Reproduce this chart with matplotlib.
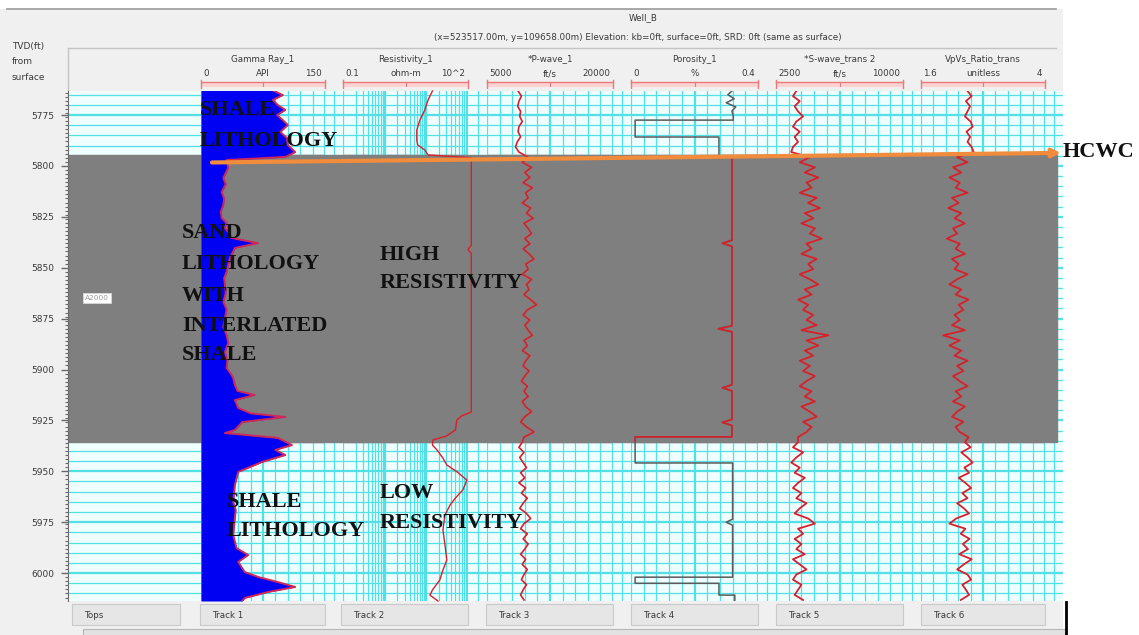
import numpy as np
import matplotlib
matplotlib.use("Agg")
import matplotlib.pyplot as plt
from matplotlib.patches import Rectangle

# ------------------------------------------------------------------ data
well_name = "Well_B"
well_info = "(x=523517.00m, y=109658.00m) Elevation: kb=0ft, surface=0ft, SRD: 0ft (same as surface)"
depth_ticks = [5775, 5800, 5825, 5850, 5875, 5900, 5925, 5950, 5975, 6000]
depth_range = (5763.2, 6013.7)
zone_top, zone_base = 5794.6, 5935.5          # A2000 sand interval (grey)
hcwc_depth = [5798.3, 5793.6]                 # contact arrow, left / right end
top_name, top_depth = "A2000", 5865.0

track_names = ["Gamma Ray_1", "Resistivity_1", "*P-wave_1", "Porosity_1",
               "*S-wave_trans 2", "VpVs_Ratio_trans"]
track_units = ["API", "ohm-m", "ft/s", "%", "ft/s", "unitless"]
track_min_lbl = ["0", "0.1", "5000", "0", "2500", "1.6"]
track_max_lbl = ["150", "10^2", "20000", "0.4", "10000", "4"]
track_limits = [(0, 150), (0.1, 100), (5000, 20000), (0, 0.4), (2500, 10000), (1.6, 4)]
button_labels = ["Tops", "Track 1", "Track 2", "Track 3", "Track 4", "Track 5", "Track 6"]

gr_log = [(5762.7, 86), (5765.2, 99), (5767.6, 87), (5770.1, 93), (5772.5, 102), (5775.0, 92),
          (5777.5, 99), (5779.9, 105), (5783.3, 96), (5786.3, 104), (5789.7, 105), (5793.2, 114),
          (5795.6, 102), (5797.1, 31), (5801.0, 33), (5805.9, 27), (5809.0, 30), (5812.8, 25),
          (5816.0, 28), (5819.2, 27), (5822.5, 24), (5825.6, 25), (5828.0, 31), (5830.5, 29),
          (5833.0, 34), (5835.4, 37), (5837.9, 69), (5840.3, 41), (5842.8, 38), (5845.2, 35),
          (5848.5, 33), (5852.1, 31), (5855.0, 28), (5858.5, 29), (5862.5, 30), (5866.8, 27),
          (5870.5, 31), (5874.7, 29), (5879.0, 27), (5883.1, 31), (5887.0, 33), (5891.4, 29),
          (5895.5, 32), (5899.3, 31), (5902.0, 36), (5904.2, 39), (5907.6, 41), (5910.5, 44),
          (5912.5, 65), (5915.0, 41), (5918.9, 45), (5921.5, 60), (5923.3, 102), (5925.8, 50),
          (5929.7, 41), (5931.2, 29), (5933.6, 93), (5937.1, 110), (5939.5, 90), (5942.0, 102),
          (5945.4, 74), (5950.3, 45), (5956.7, 41), (5961.0, 40), (5965.1, 39), (5969.0, 42),
          (5972.9, 41), (5977.0, 40), (5981.3, 39), (5984.5, 41), (5987.7, 43), (5991.1, 57),
          (5994.5, 45), (5999.5, 53), (6002.0, 70), (6004.4, 93), (6006.8, 114), (6009.3, 81),
          (6012.2, 53), (6013.7, 50)]

res_log = [(5763.2, 14), (5767.6, 11), (5772.5, 9.2), (5777.5, 7.0), (5782.4, 5.9), (5787.3, 5.9),
           (5789.7, 6.2), (5792.2, 9.2), (5794.6, 11), (5796.0, 120), (5839.0, 120), (5841.0, 100),
           (5843.0, 120), (5920.9, 120), (5922.8, 70), (5924.8, 54), (5929.7, 50), (5932.7, 30),
           (5934.6, 14.4), (5937.1, 14), (5939.5, 18), (5943.5, 25), (5946.9, 31), (5950.3, 55),
           (5954.3, 94), (5959.2, 75), (5963.1, 50), (5966.6, 37), (5971.5, 28), (5978.8, 25),
           (5986.2, 28), (5993.6, 31), (5998.5, 25), (6003.4, 21), (6008.3, 14), (6010.8, 12.2),
           (6013.7, 19)]

por_log = [(5763.2, 0.318), (5765.0, 0.305), (5767.0, 0.325), (5769.0, 0.300), (5771.0, 0.330),
           (5773.0, 0.318), (5775.5, 0.322), (5777.5, 0.322), (5777.5, 0.013), (5785.8, 0.013),
           (5785.8, 0.277), (5795.0, 0.277), (5795.0, 0.318), (5836.5, 0.318), (5838.0, 0.288),
           (5839.5, 0.318), (5878.5, 0.318), (5880.0, 0.275), (5881.5, 0.318), (5907.5, 0.318),
           (5909.0, 0.288), (5910.5, 0.318), (5924.5, 0.318), (5926.0, 0.288), (5927.5, 0.318),
           (5933.1, 0.318), (5933.1, 0.013), (5945.9, 0.013), (5945.9, 0.320), (5973.5, 0.320),
           (5975.0, 0.300), (5976.5, 0.320), (6002.0, 0.320), (6002.0, 0.013), (6005.0, 0.013),
           (6005.0, 0.277), (6010.8, 0.277), (6010.8, 0.327), (6013.7, 0.327)]

# sonic-type curves sampled every 2.5 ft from 5763.2 ft
sample_depth = np.arange(5763.2, 6013.3, 2.5)
pwave = [8700, 9100, 8800, 8650, 9000, 8900, 9200, 8800, 8700, 9000, 8600, 8400, 8800,
         9900, 9200, 10300, 9500, 10100, 9300, 10400, 9600, 9900, 9200,
         10200, 9700, 10500, 9400, 9900, 10300, 9500, 10100, 9300, 10000,
         10600, 9600, 9900, 9200, 10300, 9700, 10000, 9400, 10200, 10900,
         9800, 9300, 10100, 9500, 9900, 10400, 9400, 9800, 9200, 10100,
         9600, 9300, 10000, 9500, 9100, 9800, 9400, 9900, 9200, 9600,
         10300, 9500, 9000, 9700, 10600, 9400,
         9200, 8800, 9400, 8900, 9300, 9700, 9000, 9500, 8800, 9600,
         9100, 9800, 9300, 8900, 9700, 10200, 9400, 9000, 9800, 9300,
         9900, 9500, 9000, 9600, 9200, 9800, 9400, 9100, 9700, 9300, 9000, 9400]
swave = [3700, 3500, 3900, 3600, 3800, 4100, 3700, 3500, 3900, 3600, 3800, 3500, 3400,
         4500, 3900, 4800, 4200, 5000, 4300, 4600, 3900, 4900, 4400,
         5100, 4200, 4700, 4000, 4800, 4500, 5200, 4300, 4600, 4000,
         4900, 4400, 4700, 3900, 4500, 5000, 4200, 4600, 3800, 4400,
         4100, 4700, 4300, 4900, 4000, 5600, 4300, 5000, 4200, 4700,
         3900, 4500, 4100, 4800, 4300, 3900, 4600, 4200, 4800, 4000,
         4500, 4900, 4100, 4600, 4300, 3800,
         3800, 3500, 4100, 3700, 3400, 3900, 3600, 4200, 3800, 3500,
         4000, 3700, 4300, 3900, 3600, 4400, 4800, 3800, 4100, 3600,
         4000, 3700, 4200, 3500, 3900, 4300, 3700, 3500, 4000, 3800, 3600, 4100]
vpvs = [2.50, 2.58, 2.47, 2.55, 2.50, 2.45, 2.56, 2.60, 2.48, 2.55, 2.50, 2.58, 2.62,
        2.30, 2.50, 2.22, 2.38, 2.15, 2.35, 2.27, 2.50, 2.20, 2.33,
        2.13, 2.38, 2.25, 2.45, 2.22, 2.30, 2.10, 2.35, 2.27, 2.45,
        2.20, 2.33, 2.25, 2.50, 2.30, 2.15, 2.38, 2.27, 2.52, 2.33,
        2.42, 2.25, 2.35, 2.20, 2.45, 2.03, 2.35, 2.15, 2.38, 2.25,
        2.50, 2.30, 2.42, 2.22, 2.35, 2.50, 2.27, 2.38, 2.22, 2.45,
        2.30, 2.20, 2.42, 2.27, 2.35, 2.52,
        2.45, 2.56, 2.38, 2.50, 2.60, 2.44, 2.53, 2.33, 2.46, 2.57,
        2.40, 2.50, 2.30, 2.43, 2.53, 2.28, 2.15, 2.46, 2.37, 2.54,
        2.41, 2.51, 2.34, 2.58, 2.43, 2.30, 2.50, 2.57, 2.40, 2.47, 2.53, 2.37]

# ------------------------------------------------------------------ layout / style
W, H = 1139, 635
Y0, Y1 = 91, 601                      # data area (pixels)
DATA_X0, DATA_X1, GRAY_X1 = 68, 1063, 1057
TRACK_PX = [(201, 325), (343, 468), (487, 613), (631, 758), (776, 903), (921, 1045)]
BUTTON_PX = [(72, 180), (200, 325), (341, 468), (486, 613), (631, 758), (776, 903), (921, 1045)]
GRID = "#52dfe6"
BGC = "#effefe"
GRAY = "#7f7f7f"
RED = "#d8202c"
TXT = "#3a3a3a"
SERIF = ["Liberation Serif", "DejaVu Serif"]


def rect(x0, x1, y0, y1):
    return [x0 / W, 1 - y1 / H, (x1 - x0) / W, (y1 - y0) / H]


fig = plt.figure(figsize=(W / 100, H / 100), dpi=100)
fig.patch.set_facecolor("white")

# panel background
base = fig.add_axes([0, 0, 1, 1])
base.set_xlim(0, W); base.set_ylim(H, 0); base.set_axis_off()
base.add_patch(Rectangle((0, 9), 1063, 626, fc="#f0f0f0", ec="none"))
base.plot([7, 1056], [9, 9], color="#9a9a9a", lw=1.2)
base.plot([68, 1056], [48, 48], color="#c4c4c4", lw=1.0)
base.plot([68, 68], [48, 91], color="#c4c4c4", lw=1.0)

# background grid axes with depth scale
bg = fig.add_axes(rect(DATA_X0, DATA_X1, Y0, Y1))
bg.set_facecolor(BGC)
bg.set_xlim(DATA_X0, DATA_X1)
bg.set_ylim(depth_range[1], depth_range[0])
for d in range(5765, 6014, 5):
    bg.axhline(d, color=GRID, lw=1.6 if d % 25 == 0 else 0.9, zorder=1)
for (a, _), (_, b) in zip(TRACK_PX[1:], TRACK_PX[:-1]):
    bg.axvline((a + b) / 2, color=GRID, lw=0.9, zorder=1)
bg.axvline(1054, color=GRID, lw=0.9, zorder=1)
bg.axhspan(zone_top, zone_base, xmin=0, xmax=(GRAY_X1 - DATA_X0) / (DATA_X1 - DATA_X0),
           color=GRAY, zorder=2)
for s in ["top", "right", "bottom"]:
    bg.spines[s].set_visible(False)
bg.spines["left"].set_color("#6a6a6a")
bg.set_xticks([])
bg.set_yticks(depth_ticks)
bg.set_yticks(np.arange(5764, 6014, 2), minor=True)
bg.tick_params(axis="y", which="major", length=5, width=1, color="#6a6a6a",
               labelsize=6.5, labelcolor=TXT, pad=5)
bg.tick_params(axis="y", which="minor", length=2.5, width=0.8, color="#6a6a6a")

# tracks
for i, (x0, x1) in enumerate(TRACK_PX):
    ax = fig.add_axes(rect(x0, x1, Y0, Y1))
    lo, hi = track_limits[i]
    if i == 1:
        ax.set_xscale("log")
    ax.set_xlim(lo, hi)
    ax.set_ylim(depth_range[1], depth_range[0])
    ax.set_axis_off()
    if i == 1:
        for dec in [0.1, 1, 10]:
            for m in range(1, 10):
                ax.axvline(dec * m, color=GRID, lw=1.6 if m == 1 else 0.9, zorder=1)
        ax.axvline(100, color=GRID, lw=1.6, zorder=1)
    else:
        for k in range(11):
            ax.axvline(lo + (hi - lo) * k / 10, color=GRID, lw=1.6 if k % 5 == 0 else 0.9, zorder=1)
    ax.axhspan(zone_top, zone_base, color=GRAY, zorder=2)

    if i == 0:
        d, v = zip(*gr_log)
        ax.fill_betweenx(d, 0, v, color="#0000f2", lw=0, zorder=3)
        ax.plot(v, d, color="#d02858", lw=1.4, zorder=4)
    elif i == 1:
        d, v = zip(*res_log)
        ax.plot(v, d, color=RED, lw=1.0, zorder=4, clip_on=False)
    elif i == 2:
        ax.plot(pwave, sample_depth, color=RED, lw=1.2, zorder=4)
    elif i == 3:
        d, v = zip(*por_log)
        ax.plot(v, d, color="#5a5a5a", lw=1.1, zorder=4)
        ln, = ax.plot(v, d, color=RED, lw=1.2, zorder=5)
        clip = Rectangle((lo, zone_top), hi - lo, zone_base - zone_top, transform=ax.transData)
        ln.set_clip_path(clip)
    elif i == 4:
        ax.plot(swave, sample_depth, color=RED, lw=1.3, zorder=4)
    else:
        ax.plot(vpvs, sample_depth, color=RED, lw=1.3, zorder=4)

# overlay in pixel coordinates: headers, labels, annotations
ov = fig.add_axes([0, 0, 1, 1], zorder=5)
ov.set_xlim(0, W); ov.set_ylim(H, 0); ov.set_axis_off()
ov.text(643, 18, well_name, ha="center", va="center", fontsize=6.3, color=TXT)
ov.text(638, 38, well_info, ha="center", va="center", fontsize=6.3, color=TXT)
for j, s in enumerate(["TVD(ft)", "from", "surface"]):
    ov.text(12, 47 + 15 * j, s, ha="left", va="center", fontsize=6.5, color=TXT)

for i, (x0, x1) in enumerate(TRACK_PX):
    xc = (x0 + x1) / 2
    ov.text(xc, 59, track_names[i], ha="center", va="center", fontsize=6.3, color=TXT)
    ov.text(x0 + 2, 74, track_min_lbl[i], ha="left", va="center", fontsize=6.3, color=TXT)
    ov.text(xc, 74, track_units[i], ha="center", va="center", fontsize=6.3, color=TXT)
    ov.text(x1 - 3, 74, track_max_lbl[i], ha="right", va="center", fontsize=6.3, color=TXT)
    ov.add_patch(Rectangle((x0, 82), x1 - x0, 5, fc="#fbd3d3", ec="none"))
    ov.plot([x0, x1], [82, 82], color="#e87a7a", lw=1.0)
    ov.plot([x0, x0], [80, 88], color="#e87a7a", lw=1.0)
    ov.plot([x1, x1], [80, 88], color="#e87a7a", lw=1.0)
    ov.plot([xc, xc], [82, 86], color="#e87a7a", lw=0.8)

for (x0, x1), lab in zip(BUTTON_PX, button_labels):
    ov.add_patch(Rectangle((x0, 604), x1 - x0, 21, fc="#e6e6e6", ec="#c9c9c9", lw=0.8))
    ov.text(x0 + 12, 615, lab, ha="left", va="center", fontsize=6.3, color=TXT)
ov.add_patch(Rectangle((83, 629), 982, 8, fc="#e2e2e2", ec="#b6b6b6", lw=0.8))
ov.plot([1066, 1066], [602, 635], color="black", lw=2)

ov.text(97, 298, top_name, ha="center", va="center", fontsize=5.3, color="#9a9a9a",
        bbox=dict(boxstyle="square,pad=0.25", fc="white", ec="#d8d8d8", lw=0.6))

annot = [("SHALE", 200, 110), ("LITHOLOGY", 200, 141),
         ("SAND", 182, 233), ("LITHOLOGY", 182, 264), ("WITH", 182, 296),
         ("INTERLATED", 182, 326), ("SHALE", 182, 355),
         ("HIGH", 380, 255), ("RESISTIVITY", 380, 283),
         ("SHALE", 227, 502), ("LITHOLOGY", 227, 531),
         ("LOW", 380, 493), ("RESISTIVITY", 380, 523),
         ("HCWC", 1063, 152)]
for s, x, y in annot:
    ov.text(x, y, s, ha="left", va="center", fontsize=16, fontweight="bold",
            family=SERIF, color="#111111", zorder=10)

# contact arrow on depth scale
ovd = fig.add_axes(rect(0, W, Y0, Y1), zorder=6)
ovd.set_xlim(0, W); ovd.set_ylim(depth_range[1], depth_range[0]); ovd.set_axis_off()
ovd.annotate("", xy=(1061, hcwc_depth[1]), xytext=(212, hcwc_depth[0]),
             arrowprops=dict(arrowstyle="-|>", color="#f08c3c", lw=3.0,
                             mutation_scale=12, shrinkA=0, shrinkB=0),
             annotation_clip=False)

fig.savefig("out.png", dpi=100)
